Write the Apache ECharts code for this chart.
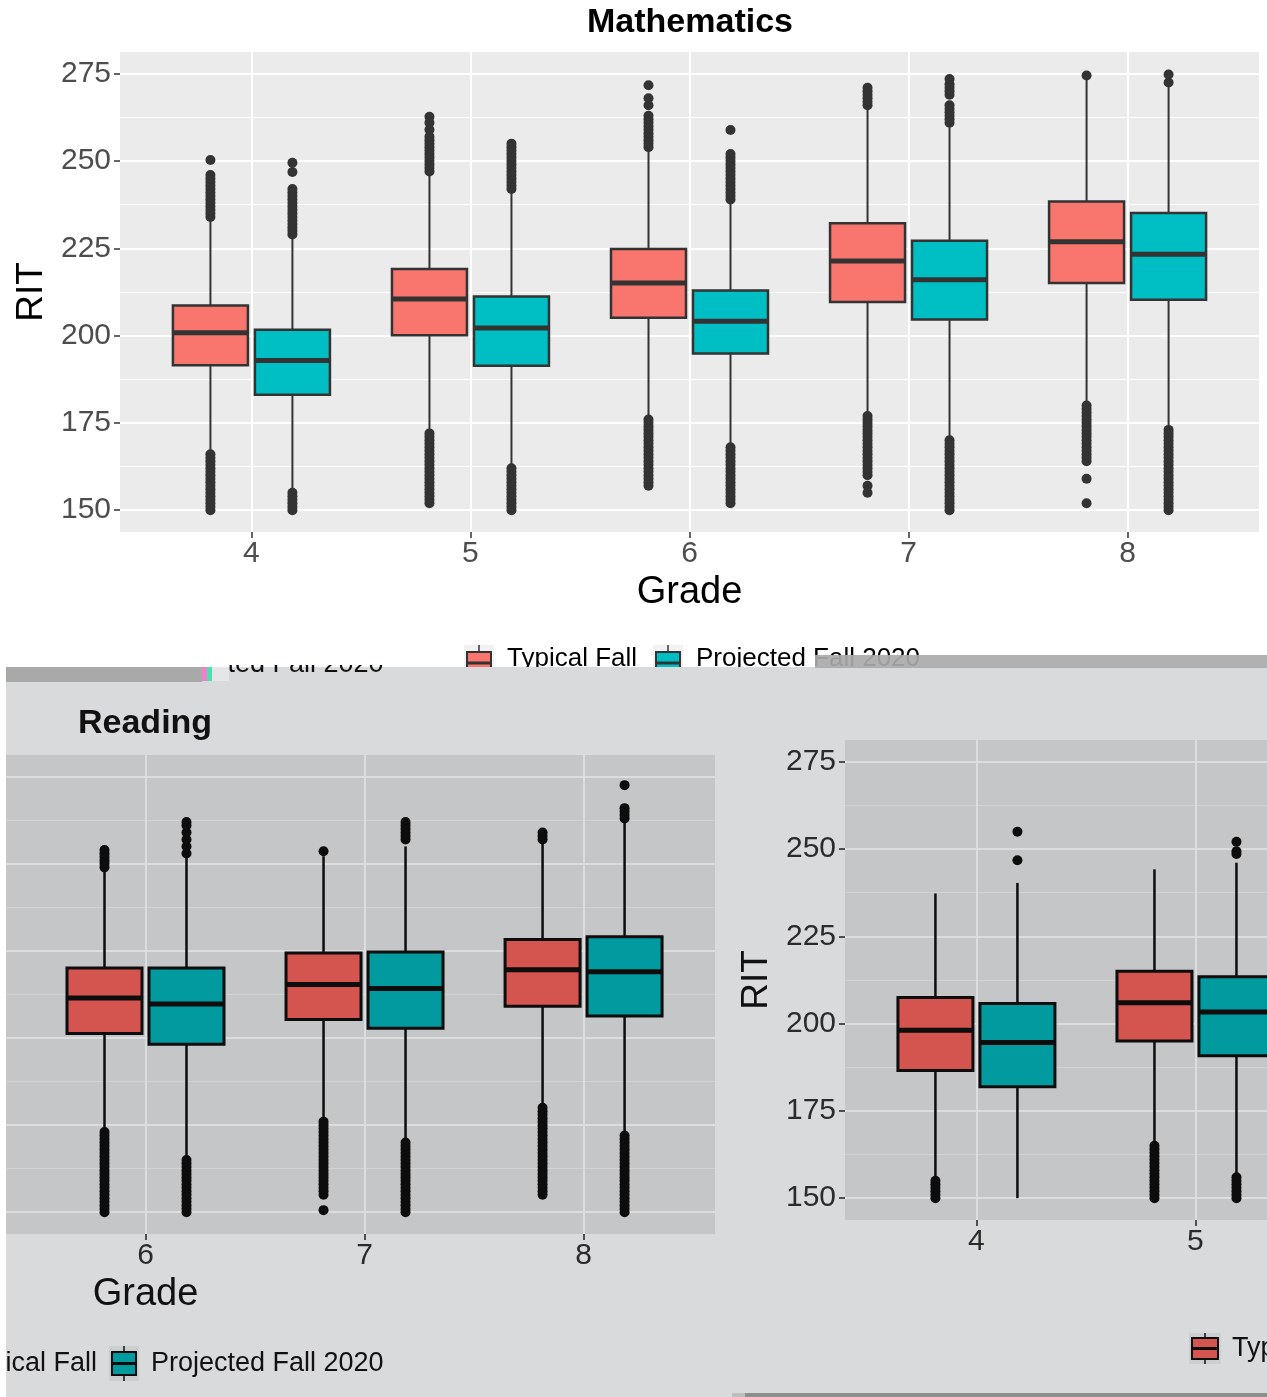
<!DOCTYPE html>
<html><head><meta charset="utf-8">
<script src="https://cdn.jsdelivr.net/npm/echarts@6/dist/echarts.min.js"></script>
<style>html,body{margin:0;padding:0;background:#fff}#c{width:1267px;height:1397px}</style>
</head><body><div id="c"></div>
<script>
// ================= DATA =================
const seriesNames = ['Typical Fall', 'Projected Fall 2020'];
const yTicks = [150, 175, 200, 225, 250, 275];
const gradeTicks = [4, 5, 6, 7, 8];

// Mathematics (top) — [lower whisker, Q1, median, Q3, upper whisker]
const mathGrades = [4, 5, 6, 7, 8];
const mathTypical = [
  [166.5, 191.5, 200.8, 208.6, 233.6],
  [172.7, 200.1, 210.5, 219.1, 246.5],
  [176.5, 205.1, 215.1, 224.8, 253.6],
  [177.0, 209.6, 221.4, 232.2, 265.1],
  [180.3, 215.1, 226.9, 238.4, 273.5]
];
const mathProjected = [
  [156.0, 183.1, 192.9, 201.7, 228.9],
  [162.5, 191.4, 202.2, 211.2, 241.2],
  [168.9, 194.9, 204.1, 212.9, 238.4],
  [170.8, 204.6, 216.0, 227.2, 260.3],
  [173.6, 210.3, 223.3, 235.1, 271.8]
];
const mathTypicalOut = [
  [234,235,236,237,238,239,240,241,242,243,244,245,246,250.3,
   150,151,152,153,154,155,156,157,158,159,160,161,162,163,164,165,166],
  [247,248,249,250,251,252,253,254,255,256,257,259,261,262.7,
   152,153,154,155,156,157,158,159,160,161,162,163,164,165,166,167,168,169,170,171,172],
  [254,255,256,257,258,259,260,261,262,263,266,268,271.7,
   157,158,159,160,161,162,163,164,165,166,167,168,169,170,171,172,173,174,175,176],
  [266,267,268,269,270,271,
   161,162,163,164,165,166,167,168,169,170,171,172,173,174,175,176,177,160,157,155],
  [274.5,
   164,165,166,167,168,169,170,171,172,173,174,175,176,177,178,179,180,159,152]
];
const mathProjectedOut = [
  [229,230,231,232,233,234,235,236,237,238,239,240,241,242,246.9,249.5,
   150,151,152,153,154,155],
  [242,243,244,245,246,247,248,249,250,251,252,253,254,255,
   150,151,152,153,154,155,156,157,158,159,160,161,162],
  [239,240,241,242,243,244,245,246,247,248,249,250,251,252,258.9,
   152,153,154,155,156,157,158,159,160,161,162,163,164,165,166,167,168],
  [261,262,263,264,265,266,269,270,271,272,273.5,
   150,151,152,153,154,155,156,157,158,159,160,161,162,163,164,165,166,167,168,169,170],
  [272.5,274.8,
   150,151,152,153,154,155,156,157,158,159,160,161,162,163,164,165,166,167,168,169,170,171,172,173]
];

// Reading (bottom left) — grades 6–8 visible
const readingGrades = [6, 7, 8];
const readingTypical = [
  [174.0, 201.3, 211.5, 220.1, 248.0],
  [177.0, 205.3, 215.4, 224.4, 252.2],
  [181.3, 209.1, 219.6, 228.3, 256.4]
];
const readingProjected = [
  [166.0, 198.2, 209.8, 220.1, 252.2],
  [170.8, 202.8, 214.2, 224.7, 255.0],
  [173.2, 206.3, 219.0, 229.1, 262.6]
];
const readingTypicalOut = [
  [249,250,251,252,253,254,
   150,151,152,153,154,155,156,157,158,159,160,161,162,163,164,165,166,167,168,169,170,171,172,173],
  [253.6,
   155,156,157,158,159,160,161,162,163,164,165,166,167,168,169,170,171,172,173,174,175,176,150.6],
  [257,258,259,
   155,156,157,158,159,160,161,162,163,164,165,166,167,168,169,170,171,172,173,174,175,176,177,178,179,180]
];
const readingProjectedOut = [
  [253,255,257,259,261,262,
   150,151,152,153,154,155,156,157,158,159,160,161,162,163,164,165],
  [257,258,259,260,261,262,
   150,151,152,153,154,155,156,157,158,159,160,161,162,163,164,165,166,167,168,169,170],
  [263,264,265,266,272.6,
   150,151,152,153,154,155,156,157,158,159,160,161,162,163,164,165,166,167,168,169,170,171,172]
];

// Bottom right panel — grades 4–5 visible
const rightGrades = [4, 5];
const rightTypical = [
  [156.0, 186.6, 198.1, 207.5, 237.3],
  [165.6, 195.0, 206.0, 215.0, 244.2]
];
const rightProjected = [
  [150.0, 181.9, 194.6, 205.8, 240.3],
  [156.5, 190.8, 203.3, 213.4, 246.1]
];
const rightTypicalOut = [
  [150,151,152,153,154,155],
  [150,151,152,153,154,155,156,157,158,159,160,161,162,163,164,165]
];
const rightProjectedOut = [
  [246.8,255.0],
  [248.6,249.4,252.1,150,151,152,153,154,155,156]
];

// ================= STYLE / LAYOUT =================
const FONT = "'Liberation Sans', Arial, Helvetica, sans-serif";
const EXPAND = 6.25; // ggplot 5% expansion of 150..275
const Y_MIN = yTicks[0] - EXPAND, Y_MAX = yTicks[yTicks.length - 1] + EXPAND;

const TOP = {
  bg: '#EBEBEB', grid: '#FFFFFF', minor: '#FFFFFF', label: '#4D4D4D', title: '#000000', tick: '#333333',
  fill: ['#F8766D', '#00BFC4'], line: '#333333',
  boxW: 75, whiskerW: 2, borderW: 2.5, medianW: 5, dot: 10
};
const BOT = {
  bg: '#C5C6C8', grid: '#DCDDDF', minor: '#D2D3D5', label: '#2B2B2B', title: '#111111', tick: '#222222',
  fill: ['#D4544F', '#009A9F'], line: '#0D0D0D',
  boxW: 75, whiskerW: 2.5, borderW: 3, medianW: 5, dot: 10
};
const OFFSET = 41; // dodge offset in px

const panels = [
  { left: 120, top: 52, width: 1139, height: 480, st: TOP,
    grades: mathGrades, typ: mathTypical, pro: mathProjected, typOut: mathTypicalOut, proOut: mathProjectedOut },
  { left: -424, top: 755, width: 1139, height: 479, st: BOT,
    grades: readingGrades, typ: readingTypical, pro: readingProjected, typOut: readingTypicalOut, proOut: readingProjectedOut },
  { left: 845, top: 740, width: 1139, height: 480, st: BOT,
    grades: rightGrades, typ: rightTypical, pro: rightProjected, typOut: rightTypicalOut, proOut: rightProjectedOut }
];

function boxSeries(name, axisIdx, grades, stats, st, fill, offset) {
  return {
    type: 'custom', name: name, xAxisIndex: axisIdx, yAxisIndex: axisIdx, clip: false, z: 3,
    silent: true,
    data: grades.map((g, i) => [g].concat(stats[i])),
    encode: { x: 0, y: [1, 2, 3, 4, 5] },
    renderItem: function (params, api) {
      const g = api.value(0);
      const lo = api.coord([g, api.value(1)]);
      const q1 = api.coord([g, api.value(2)]);
      const md = api.coord([g, api.value(3)]);
      const q3 = api.coord([g, api.value(4)]);
      const hi = api.coord([g, api.value(5)]);
      const cx = lo[0] + offset;
      const hw = st.boxW / 2;
      return {
        type: 'group',
        children: [
          { type: 'line', shape: { x1: cx, y1: hi[1], x2: cx, y2: q3[1] }, style: { stroke: st.line, lineWidth: st.whiskerW } },
          { type: 'line', shape: { x1: cx, y1: q1[1], x2: cx, y2: lo[1] }, style: { stroke: st.line, lineWidth: st.whiskerW } },
          { type: 'rect', shape: { x: cx - hw, y: q3[1], width: 2 * hw, height: q1[1] - q3[1] },
            style: { fill: fill, stroke: st.line, lineWidth: st.borderW } },
          { type: 'line', shape: { x1: cx - hw, y1: md[1], x2: cx + hw, y2: md[1] }, style: { stroke: st.line, lineWidth: st.medianW } }
        ]
      };
    }
  };
}
function outlierSeries(name, axisIdx, grades, outs, st, offset) {
  const data = [];
  grades.forEach((g, i) => outs[i].forEach(v => data.push([g, v])));
  return {
    type: 'scatter', name: name, xAxisIndex: axisIdx, yAxisIndex: axisIdx, clip: false, z: 4, silent: true,
    symbol: 'circle', symbolSize: st.dot, symbolOffset: [offset, 0],
    itemStyle: { color: st.line, opacity: 1 }, data: data
  };
}

const grid = [], xAxis = [], yAxis = [], series = [];
panels.forEach(p => {
  const st = p.st;
  const k = p.height / (Y_MAX - Y_MIN);
  const bw = p.width / (gradeTicks.length + 0.2);
  const b = grid.length;
  const gbase = { containLabel: false, outerBoundsMode: 'none', borderWidth: 0 };
  // panel background
  grid.push(Object.assign({ left: p.left, top: p.top, width: p.width, height: p.height, show: true, backgroundColor: st.bg }, gbase));
  xAxis.push({ gridIndex: b, type: 'value', show: false, min: 0, max: 1 });
  yAxis.push({ gridIndex: b, type: 'value', show: false, min: 0, max: 1 });
  // y axis grid (150..275)
  grid.push(Object.assign({ left: p.left, top: p.top + EXPAND * k, width: p.width, height: (Y_MAX - Y_MIN - 2 * EXPAND) * k, show: false }, gbase));
  xAxis.push({ gridIndex: b + 1, type: 'value', show: false, min: 0, max: 1 });
  yAxis.push({
    gridIndex: b + 1, type: 'value', min: yTicks[0], max: yTicks[yTicks.length - 1], interval: yTicks[1] - yTicks[0],
    axisLine: { show: false },
    axisTick: { show: true, length: 6, lineStyle: { color: st.tick, width: 1.5 } },
    axisLabel: { show: true, fontSize: 30, color: st.label, margin: 9, fontFamily: FONT },
    splitLine: { show: true, lineStyle: { color: st.grid, width: 2 } },
    minorTick: { show: false, splitNumber: 2 },
    minorSplitLine: { show: true, lineStyle: { color: st.minor, width: 1 } },
    name: 'RIT', nameLocation: 'middle', nameGap: 70, nameRotate: 90,
    nameTextStyle: { fontSize: 37, color: st.title, fontFamily: FONT }
  });
  // x axis grid (grades)
  grid.push(Object.assign({ left: p.left + 0.6 * bw, top: p.top, width: (gradeTicks.length - 1) * bw, height: p.height, show: false }, gbase));
  xAxis.push({
    gridIndex: b + 2, type: 'value', min: gradeTicks[0], max: gradeTicks[gradeTicks.length - 1], interval: 1,
    axisLine: { show: false },
    axisTick: { show: true, length: 6, lineStyle: { color: st.tick, width: 1.5 } },
    axisLabel: { show: true, fontSize: 30, color: st.label, margin: 7, fontFamily: FONT },
    splitLine: { show: true, lineStyle: { color: st.grid, width: 2 } },
    name: 'Grade', nameLocation: 'middle', nameGap: 42,
    nameTextStyle: { fontSize: 38, color: st.title, fontFamily: FONT }
  });
  yAxis.push({ gridIndex: b + 2, type: 'value', show: false, min: Y_MIN, max: Y_MAX });
  series.push(boxSeries(seriesNames[0], b + 2, p.grades, p.typ, st, st.fill[0], -OFFSET));
  series.push(boxSeries(seriesNames[1], b + 2, p.grades, p.pro, st, st.fill[1], OFFSET));
  series.push(outlierSeries(seriesNames[0], b + 2, p.grades, p.typOut, st, -OFFSET));
  series.push(outlierSeries(seriesNames[1], b + 2, p.grades, p.proOut, st, OFFSET));
});

// legend key glyph (boxplot key)
function key(bx, by, w, h, medY, vTop, vBot, bg, fill, st, z) {
  const cx = bx + w / 2;
  return [
    { type: 'rect', z: z, silent: true, shape: { x: bx - 3, y: vTop, width: w + 6, height: vBot - vTop }, style: { fill: bg } },
    { type: 'line', z: z, silent: true, shape: { x1: cx, y1: vTop, x2: cx, y2: vBot }, style: { stroke: st.line, lineWidth: 1.5 } },
    { type: 'rect', z: z, silent: true, shape: { x: bx, y: by, width: w, height: h }, style: { fill: fill, stroke: st.line, lineWidth: 2 } },
    { type: 'line', z: z, silent: true, shape: { x1: bx, y1: medY, x2: bx + w, y2: medY }, style: { stroke: st.line, lineWidth: 3 } }
  ];
}
function txt(x, y, s, size, color, z, bold, align) {
  return { type: 'text', z: z, x: x, y: y, silent: true,
    style: { text: s, fill: color, font: (bold ? 'bold ' : '') + size + 'px ' + FONT, align: align || 'left', verticalAlign: 'middle' } };
}

const graphic = [].concat(
  // titles
  [txt(690, 23, 'Mathematics', 34, '#000', 1, true, 'center')],
  // top legend (cut off by overlay)
  key(467, 652, 24, 24, 663, 645, 684, '#F2F2F2', TOP.fill[0], TOP, -3),
  [txt(507, 659, seriesNames[0], 26, '#000', -3)],
  key(656, 652, 24, 24, 663, 645, 684, '#F2F2F2', TOP.fill[1], TOP, -3),
  [txt(696, 659, seriesNames[1], 26, '#000', -3)],
  [
    // overlay of the lower screenshot
    { type: 'rect', z: -1, silent: true, shape: { x: 6, y: 667, width: 1261, height: 730 }, style: { fill: '#D9DADC' } }
  ],
  // ghost legend fragment (lower part only)
  [txt(151, 664.5, seriesNames[1], 27, '#111', -0.8)],
  [
    { type: 'rect', z: -0.7, silent: true, shape: { x: 130, y: 630, width: 98, height: 37 }, style: { fill: '#FFFFFF' } },
    { type: 'rect', z: -0.7, silent: true, shape: { x: 228, y: 630, width: 180, height: 35 }, style: { fill: '#FFFFFF' } },
    { type: 'rect', z: -0.5, silent: true, shape: { x: 6, y: 667, width: 196, height: 15 }, style: { fill: '#A9A9A9' } },
    { type: 'rect', z: -0.5, silent: true, shape: { x: 815, y: 655, width: 452, height: 13 }, style: { fill: '#AAAAAA', opacity: 0.92 } },
    { type: 'rect', z: -0.4, silent: true, shape: { x: 202, y: 667, width: 5, height: 14 }, style: { fill: '#F27FCB' } },
    { type: 'rect', z: -0.4, silent: true, shape: { x: 207, y: 667, width: 5, height: 14 }, style: { fill: '#4FE0B0' } },
    { type: 'rect', z: -0.4, silent: true, shape: { x: 212, y: 667, width: 17, height: 14 }, style: { fill: '#E6E6E8' } }
  ],
  [txt(78, 724, 'Reading', 34, '#111', 1, true)],
  // bottom-left legend
  key(-77, 1352, 24, 23, 1363.5, 1346, 1381, '#CDCED0', BOT.fill[0], BOT, 1),
  [txt(-38, 1364, seriesNames[0], 27, '#111', 1)],
  key(112, 1352, 24, 23, 1363.5, 1346, 1381, '#CDCED0', BOT.fill[1], BOT, 1),
  [txt(151, 1364, seriesNames[1], 27, '#111', 1)],
  // bottom-right legend
  key(1192, 1338, 26, 21, 1348.5, 1333, 1364, '#CDCED0', BOT.fill[0], BOT, 1),
  [txt(1232, 1349, seriesNames[0], 27, '#111', 1)],
  [
    { type: 'rect', z: 100, silent: true, shape: { x: 0, y: 667, width: 6, height: 730 }, style: { fill: '#FFFFFF' } },
    { type: 'rect', z: 100, silent: true, shape: { x: 732, y: 1393, width: 13, height: 4 }, style: { fill: '#BDBDBD' } },
    { type: 'rect', z: 100, silent: true, shape: { x: 745, y: 1393, width: 522, height: 4 }, style: { fill: '#8E8E8E' } }
  ]
);

const chart = echarts.init(document.getElementById('c'), null, { renderer: 'canvas', width: 1267, height: 1397 });
chart.setOption({
  animation: false,
  backgroundColor: '#FFFFFF',
  textStyle: { fontFamily: FONT },
  tooltip: { show: false },
  grid: grid, xAxis: xAxis, yAxis: yAxis, series: series,
  graphic: { elements: graphic }
});
</script></body></html>
